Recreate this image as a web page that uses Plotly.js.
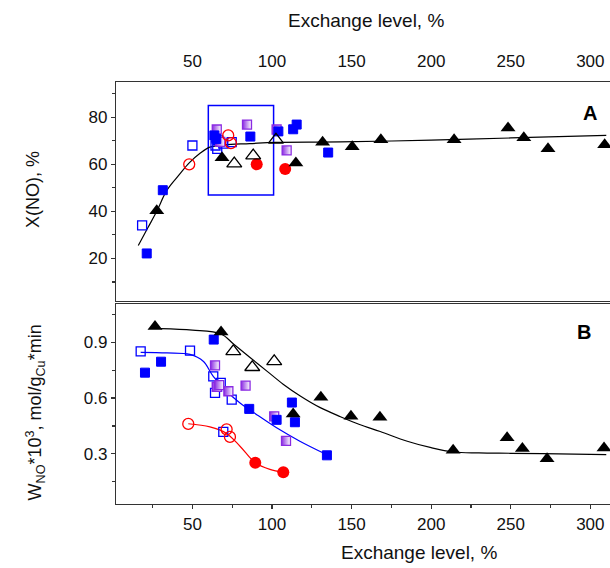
<!DOCTYPE html>
<html>
<head>
<meta charset="utf-8">
<script src="https://cdn.plot.ly/plotly-3.0.1.min.js"></script>
<style>
html,body{margin:0;padding:0;overflow:hidden;background:#fff;}
#chart{width:640px;height:568px;}
</style>
</head>
<body>
<div id="chart"></div>
<script>
// ---------- Panel A: X(NO), % ----------
const aTriX = [27.6, 68.6, 115, 131.8, 150.4, 168.4, 214.4, 248.3, 258.2, 273.4, 309];
const aTriY = [40.3, 62.8, 60.6, 69.4, 67.5, 70.4, 70.4, 75.4, 71.3, 66.6, 68.3];
const aTriOpenX = [76.3, 88.2, 102.5];
const aTriOpenY = [60.3, 63.7, 70.4];
const aSqX = [21.3, 31.4, 63.8, 65.0, 86.4, 104.0, 113.3, 115.5, 135.3];
const aSqY = [22.1, 49.0, 72.3, 70.8, 71.8, 74.0, 74.9, 76.9, 65.0];
const aSqOpenX = [18.4, 50.0, 66.3, 65.6, 69.4, 74.7, 64.5];
const aSqOpenY = [34.0, 68.0, 70.2, 66.6, 68.8, 69.4, 68.0];
const aHalfX = [65.3, 67.5, 84.3, 102.9, 109.2];
const aHalfY = [74.8, 69.5, 76.9, 74.8, 65.9];
const aCircOpenX = [48.0, 72.5, 74.2];
const aCircOpenY = [60.0, 72.3, 69.0];
const aCircX = [90.4, 108.3];
const aCircY = [60.0, 58.0];
const aFitX = [16, 22, 27.6, 34, 42, 48, 55, 61, 70, 86, 102, 143, 200, 250, 310];
const aFitY = [25.5, 33, 40, 49, 55.8, 60.6, 64.8, 67.3, 68.3, 68.8, 69.3, 69.5, 70.3, 71.2, 72.3];
const aBoxX = [60, 101];
const aBoxY = [47, 85];

// ---------- Panel B: W_NO ----------
const bTriX = [26.5, 68.0, 113.3, 130.7, 149.6, 167.8, 213.8, 247.7, 257.3, 272.8, 308.6];
const bTriY = [0.986, 0.956, 0.515, 0.604, 0.502, 0.497, 0.319, 0.386, 0.329, 0.273, 0.332];
const bTriOpenX = [75.7, 87.6, 101.4];
const bTriOpenY = [0.852, 0.766, 0.798];
const bSqX = [20.2, 30.3, 63.4, 85.7, 102.9, 112.5, 114.4, 134.5];
const bSqY = [0.737, 0.796, 0.915, 0.542, 0.483, 0.576, 0.470, 0.292];
const bSqOpenX = [17.5, 48.5, 63.1, 64.2, 67.8, 74.7, 69.4, 65.5];
const bSqOpenY = [0.852, 0.855, 0.717, 0.628, 0.682, 0.592, 0.418, 0.660];
const bHalfX = [64.2, 65.3, 66.8, 72.6, 83.4, 101.4, 108.8];
const bHalfY = [0.776, 0.660, 0.670, 0.637, 0.667, 0.502, 0.370];
const bCircOpenX = [47.4, 71.5, 73.6];
const bCircOpenY = [0.461, 0.432, 0.391];
const bCircX = [89.5, 107.1];
const bCircY = [0.252, 0.201];
const bFitBlackX = [30, 50, 68, 76, 86, 97, 107, 118, 130, 143, 155, 168, 185, 200, 214, 230, 250, 280, 310];
const bFitBlackY = [0.974, 0.966, 0.945, 0.89, 0.82, 0.744, 0.675, 0.61, 0.55, 0.5, 0.458, 0.42, 0.368, 0.333, 0.31, 0.305, 0.303, 0.3, 0.296];
const bFitBlueX = [17.5, 34, 48.5, 56.8, 63.1, 71.5, 79.9, 90.4, 102.9, 117.5, 134.3];
const bFitBlueY = [0.846, 0.843, 0.835, 0.798, 0.717, 0.637, 0.574, 0.511, 0.44, 0.368, 0.296];
const bFitRedX = [47.4, 61, 71.5, 79.9, 89.5, 98.7, 107.1];
const bFitRedY = [0.462, 0.445, 0.41, 0.341, 0.252, 0.216, 0.201];

// ---------- Axis ticks ----------
const xTicks = [50, 100, 150, 200, 250, 300];
const aTicks = [20, 40, 60, 80];
const bTicks = [0.3, 0.6, 0.9];
const bTickText = ['0.3', '0.6', '0.9'];

const BLUE = '#0000ff', RED = '#ff0000', PURPLE = '#8a2be2', BLACK = '#000000';

function mk(x, y, xa, ya, marker) {
  return {x: x, y: y, xaxis: xa, yaxis: ya, type: 'scatter', mode: 'markers', marker: marker, showlegend: false, hoverinfo: 'skip'};
}
function ln(x, y, xa, ya, color) {
  return {x: x, y: y, xaxis: xa, yaxis: ya, type: 'scatter', mode: 'lines', line: {color: color, width: 1.2, shape: 'spline', smoothing: 1}, showlegend: false, hoverinfo: 'skip'};
}
const triF = {symbol: 'triangle-up', size: 13, color: BLACK, line: {width: 0}};
const triO = {symbol: 'triangle-up-open', size: 13, color: BLACK, line: {width: 1.3, color: BLACK}};
const sqF = {symbol: 'square', size: 9, color: BLUE, line: {width: 1, color: BLUE}};
const sqO = {symbol: 'square-open', size: 9, color: BLUE, line: {width: 1.3, color: BLUE}};
const half = {symbol: 'square', size: 9, color: PURPLE, gradient: {type: 'horizontal', color: '#ffffff'}, line: {width: 1.3, color: PURPLE}};
const ciO = {symbol: 'circle-open', size: 11, color: RED, line: {width: 1.3, color: RED}};
const ciF = {symbol: 'circle', size: 12, color: RED, line: {width: 0}};

const data = [
  ln(aFitX, aFitY, 'x2', 'y2', BLACK),
  mk(aSqOpenX, aSqOpenY, 'x2', 'y2', sqO),
  mk(aHalfX, aHalfY, 'x2', 'y2', half),
  mk(aSqX, aSqY, 'x2', 'y2', sqF),
  mk(aCircOpenX, aCircOpenY, 'x2', 'y2', ciO),
  mk(aCircX, aCircY, 'x2', 'y2', ciF),
  mk(aTriOpenX, aTriOpenY, 'x2', 'y2', triO),
  mk(aTriX, aTriY, 'x2', 'y2', triF),

  ln(bFitBlackX, bFitBlackY, 'x', 'y', BLACK),
  ln(bFitBlueX, bFitBlueY, 'x', 'y', BLUE),
  ln(bFitRedX, bFitRedY, 'x', 'y', RED),
  mk(bSqOpenX, bSqOpenY, 'x', 'y', sqO),
  mk(bHalfX, bHalfY, 'x', 'y', half),
  mk(bSqX, bSqY, 'x', 'y', sqF),
  mk(bCircOpenX, bCircOpenY, 'x', 'y', ciO),
  mk(bCircX, bCircY, 'x', 'y', ciF),
  mk(bTriOpenX, bTriOpenY, 'x', 'y', triO),
  mk(bTriX, bTriY, 'x', 'y', triF)
];

const FONT = 'Liberation Sans, Arial, sans-serif';
const axCommon = {
  showgrid: false, zeroline: false, showline: true, linecolor: '#333', linewidth: 1.2,
  tickfont: {family: FONT, size: 17, color: '#111'}, ticklen: 4, tickcolor: '#333', tickwidth: 1.2
};

const layout = {
  width: 640, height: 568,
  margin: {l: 116, r: 21, t: 82, b: 63.5},
  paper_bgcolor: '#fff', plot_bgcolor: '#fff',
  font: {family: FONT, color: '#111'},
  xaxis: Object.assign({}, axCommon, {
    domain: [0, 1], range: [2, 318], anchor: 'y', side: 'bottom', mirror: true,
    tickmode: 'array', tickvals: xTicks, ticks: 'outside',
    minor: {tickmode: 'linear', tick0: 0, dtick: 25, ticks: 'outside', ticklen: 3, tickcolor: '#333'}
  }),
  yaxis: Object.assign({}, axCommon, {
    domain: [0, 0.4746], range: [0.03, 1.108], anchor: 'x', mirror: true,
    tickmode: 'array', tickvals: bTicks, ticktext: bTickText, ticks: 'outside',
    minor: {tickmode: 'linear', tick0: 0.15, dtick: 0.3, ticks: 'outside', ticklen: 3, tickcolor: '#333'}
  }),
  // top axis of panel A: labels only (invisible outside ticks push labels up)
  xaxis2: Object.assign({}, axCommon, {
    domain: [0, 1], range: [2, 318], anchor: 'y2', side: 'top', mirror: true,
    tickmode: 'array', tickvals: xTicks, ticks: 'outside', ticklen: 7, tickcolor: 'rgba(0,0,0,0)'
  }),
  // overlay axis drawing the inward top ticks
  xaxis3: {
    domain: [0, 1], range: [2, 318], anchor: 'y2', side: 'top', overlaying: 'x2',
    showgrid: false, zeroline: false, showline: false, showticklabels: false,
    tickmode: 'array', tickvals: xTicks, ticks: 'inside', ticklen: 5, tickcolor: '#333', tickwidth: 1.2,
    minor: {tickmode: 'linear', tick0: 0, dtick: 25, ticks: 'inside', ticklen: 3, tickcolor: '#333'}
  },
  yaxis2: Object.assign({}, axCommon, {
    domain: [0.4817, 1], range: [2, 95], anchor: 'x2', mirror: true,
    tickmode: 'array', tickvals: aTicks, ticks: 'outside',
    minor: {tickmode: 'linear', tick0: 10, dtick: 20, ticks: 'outside', ticklen: 3, tickcolor: '#333'}
  }),
  shapes: [{
    type: 'rect', xref: 'x2', yref: 'y2',
    x0: aBoxX[0], x1: aBoxX[1], y0: aBoxY[0], y1: aBoxY[1],
    line: {color: BLUE, width: 1.5}, fillcolor: 'rgba(0,0,0,0)', layer: 'below'
  }],
  annotations: [
    {xref: 'paper', yref: 'paper', x: 0.497, y: 1.1467, text: 'Exchange level, %', showarrow: false,
     font: {family: FONT, size: 19, color: '#111'}, xanchor: 'center', yanchor: 'middle'},
    {xref: 'paper', yref: 'paper', x: 0.602, y: -0.1148, text: 'Exchange level, %', showarrow: false,
     font: {family: FONT, size: 19, color: '#111'}, xanchor: 'center', yanchor: 'middle'},
    {xref: 'paper', yref: 'paper', x: -0.165, y: 0.744, text: 'X(NO), %', showarrow: false, textangle: -90,
     font: {family: FONT, size: 18, color: '#111'}, xanchor: 'center', yanchor: 'middle'},
    {xref: 'paper', yref: 'paper', x: -0.161, y: 0.217, text: 'W<sub>NO</sub>*10<sup>3</sup>, mol/g<sub>Cu</sub>*min', showarrow: false, textangle: -90,
     font: {family: FONT, size: 18, color: '#111'}, xanchor: 'center', yanchor: 'middle'},
    {xref: 'paper', yref: 'paper', x: (590 - 116) / 503, y: (504.5 - 113) / 422.5, text: '<b>A</b>', showarrow: false,
     font: {family: FONT, size: 20, color: '#000'}, xanchor: 'center', yanchor: 'middle'},
    {xref: 'paper', yref: 'paper', x: (584 - 116) / 503, y: (504.5 - 332) / 422.5, text: '<b>B</b>', showarrow: false,
     font: {family: FONT, size: 20, color: '#000'}, xanchor: 'center', yanchor: 'middle'}
  ]
};

Plotly.newPlot('chart', data, layout, {staticPlot: true, displayModeBar: false});
</script>
</body>
</html>
